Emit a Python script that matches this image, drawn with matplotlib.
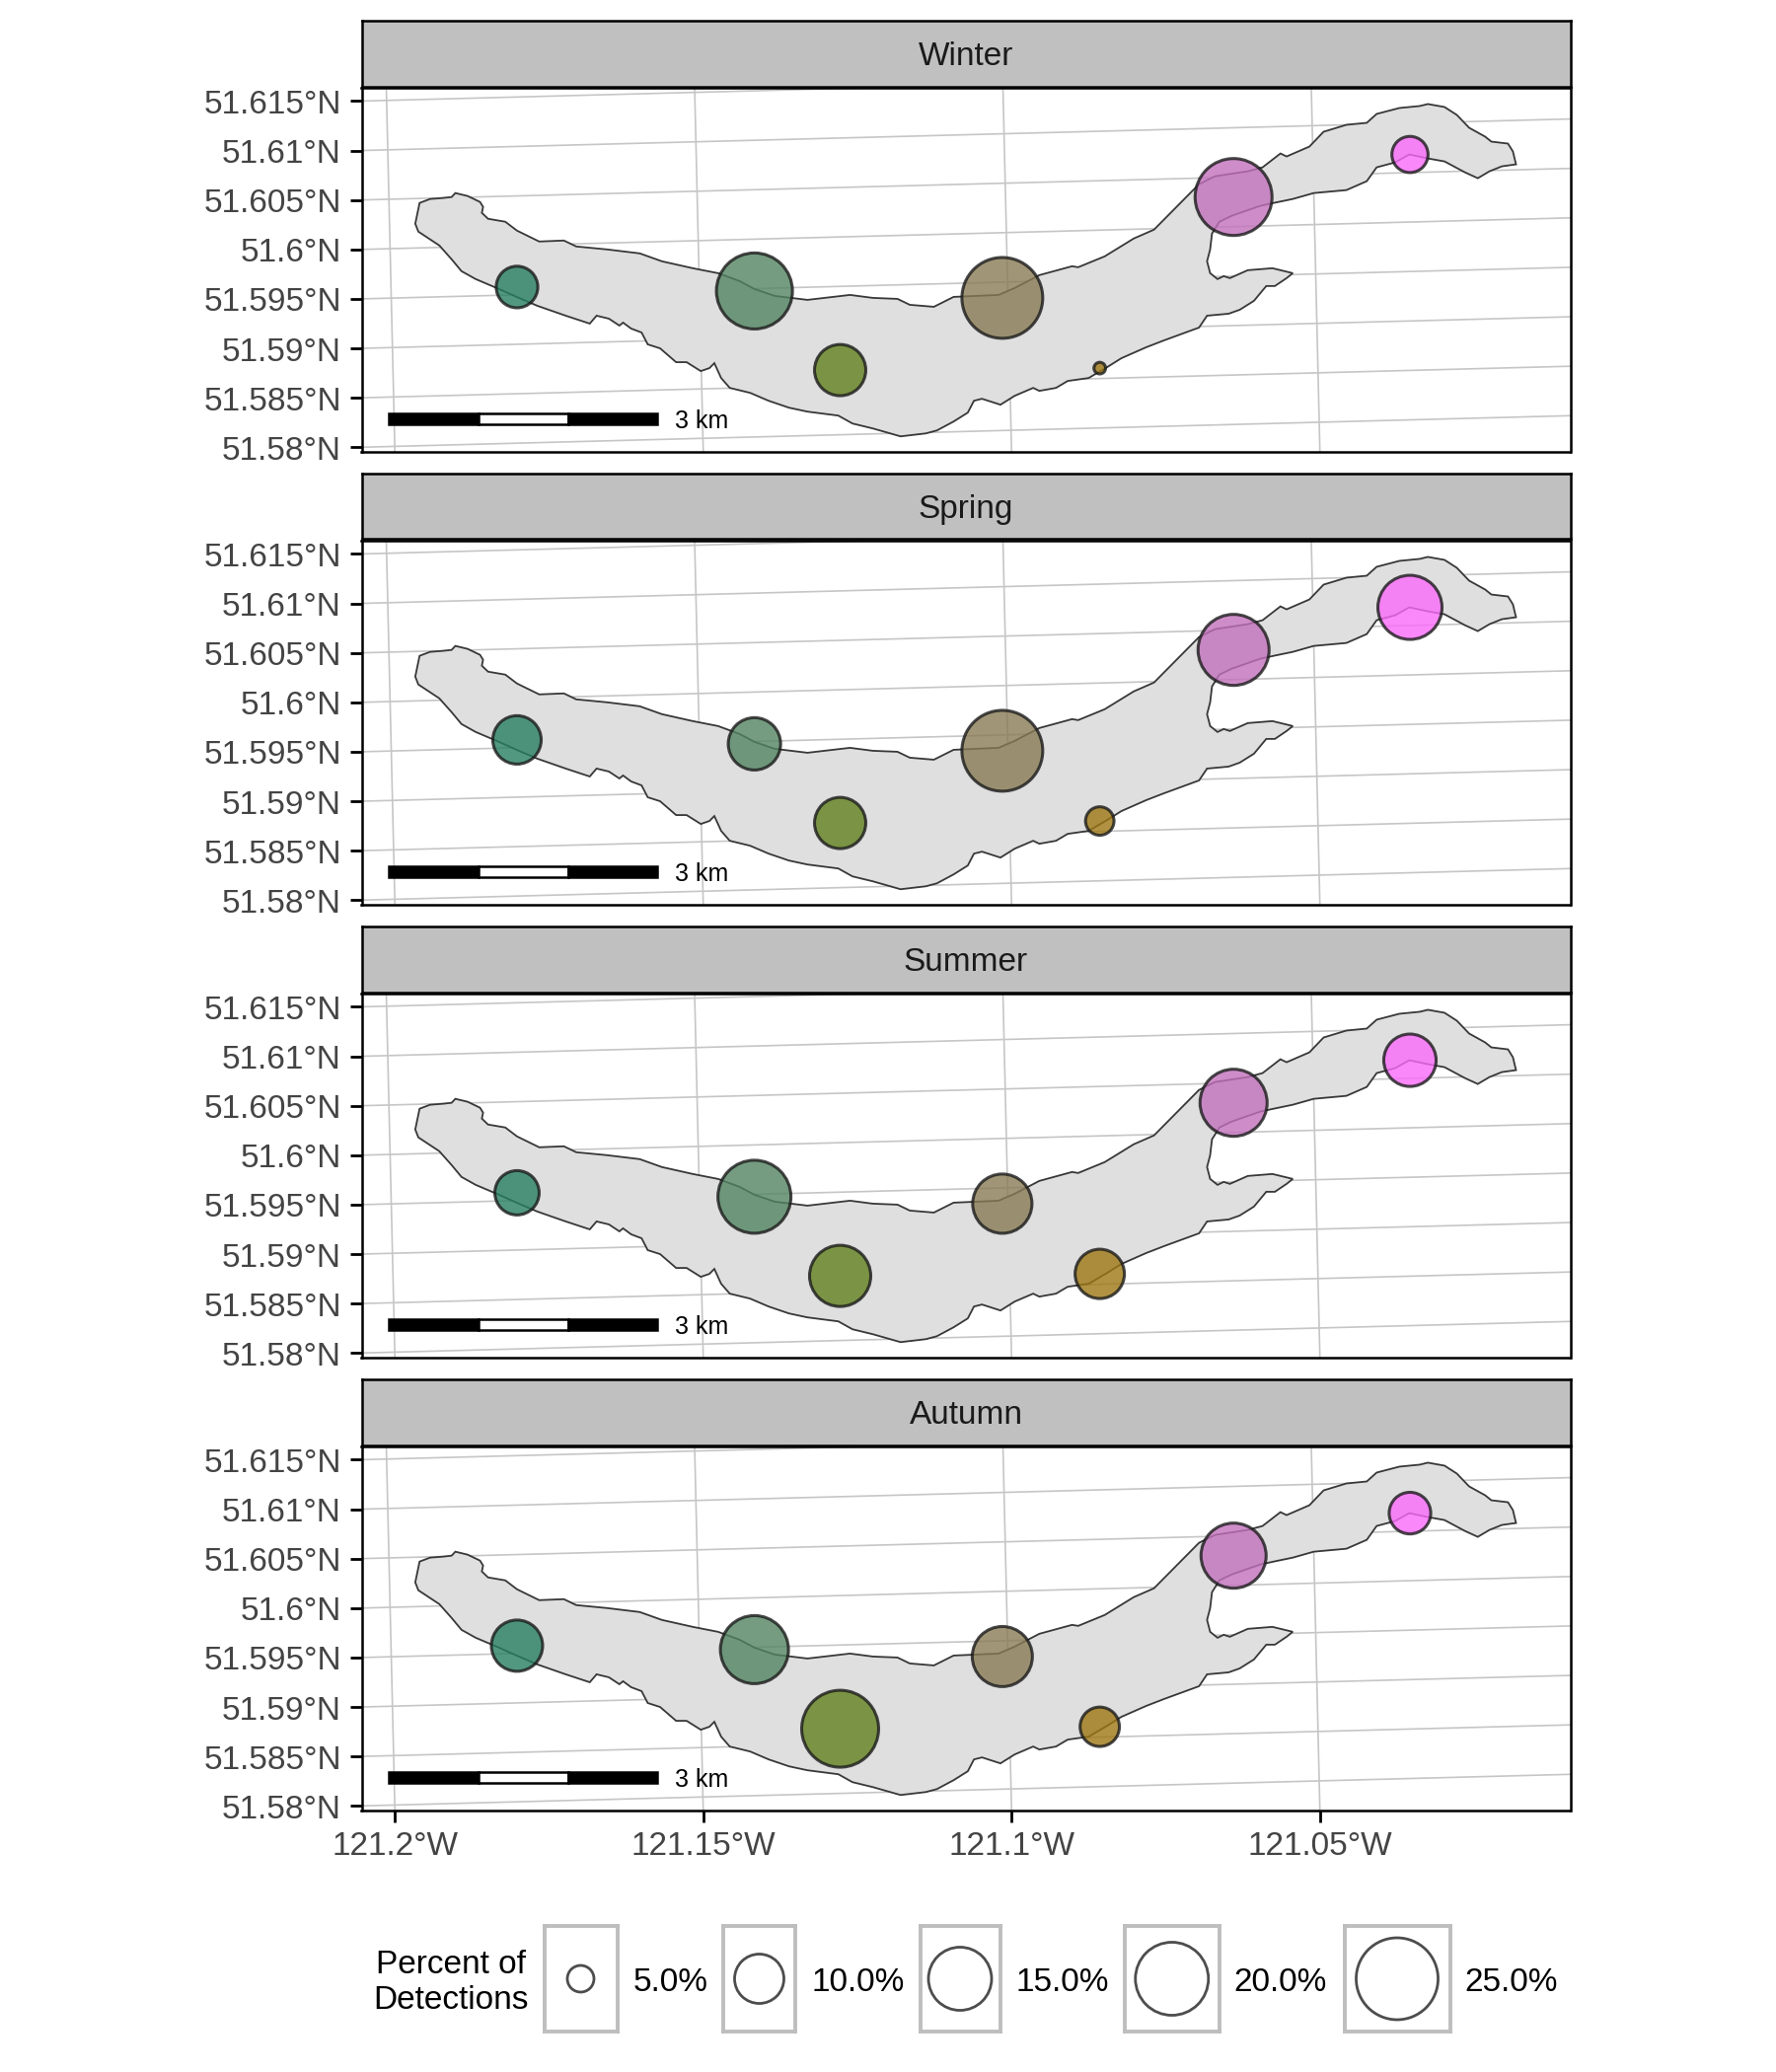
"""Seasonal detection map: percent of detections per receiver site on the lake."""

import matplotlib.pyplot as plt
import numpy as np
from matplotlib.patches import Rectangle
from matplotlib.transforms import ScaledTranslation

plt.rcParams["font.family"] = ["Liberation Sans", "DejaVu Sans"]

DPI = 200
FIG_W, FIG_H = 1800, 2100

seasons = ["Winter", "Spring", "Summer", "Autumn"]

site_lon = [-121.1802, -121.1417, -121.1278, -121.1015, -121.0857, -121.0640, -121.0354]
site_lat = [51.5962, 51.5958, 51.5878, 51.5951, 51.5880, 51.6053, 51.6096]
site_colors = ["#277F61", "#528461", "#61801D", "#887B54", "#9D7713", "#C271BC", "#FA6BFA"]

# percent of detections, one value per site
winter_pct = [8.3, 21.7, 10.7, 24.4, 1.2, 22.2, 7.1]
spring_pct = [9.8, 11.1, 10.7, 24.4, 5.4, 19.0, 15.5]
summer_pct = [8.9, 20.0, 14.3, 13.6, 10.0, 17.0, 11.1]
autumn_pct = [10.7, 17.5, 22.2, 13.9, 7.8, 16.0, 8.3]
season_pct = [winter_pct, spring_pct, summer_pct, autumn_pct]

legend_pct = [5, 10, 15, 20, 25]
legend_labels = ["5.0%", "10.0%", "15.0%", "20.0%", "25.0%"]

lat_ticks = [51.58, 51.585, 51.59, 51.595, 51.6, 51.605, 51.61, 51.615]
lat_labels = ["51.58°N", "51.585°N", "51.59°N", "51.595°N", "51.6°N", "51.605°N", "51.61°N", "51.615°N"]
lon_ticks = [-121.2, -121.15, -121.1, -121.05]
lon_labels = ["121.2°W", "121.15°W", "121.1°W", "121.05°W"]

lake_lon = [
    -121.1960, -121.1943, -121.1922, -121.1908, -121.1902, -121.1882, -121.1862, -121.1857,
    -121.1859, -121.1849, -121.1821, -121.1802, -121.1766, -121.1726, -121.1706, -121.1656,
    -121.1603, -121.1567, -121.1517, -121.1476, -121.1441, -121.1417, -121.1384, -121.1331,
    -121.1262, -121.1225, -121.1185, -121.1165, -121.1126, -121.1094, -121.1021, -121.0995,
    -121.0955, -121.0902, -121.0892, -121.0849, -121.0802, -121.0769, -121.0723, -121.0696,
    -121.0670, -121.0617, -121.0593, -121.0564, -121.0554, -121.0517, -121.0494, -121.0457,
    -121.0424, -121.0408, -121.0371, -121.0338, -121.0325, -121.0298, -121.0278, -121.0258,
    -121.0232, -121.0222, -121.0195, -121.0187, -121.0182, -121.0205, -121.0225, -121.0244,
    -121.0265, -121.0298, -121.0325, -121.0355, -121.0378, -121.0408, -121.0424, -121.0457,
    -121.0510, -121.0544, -121.0575, -121.0597, -121.0643, -121.0663, -121.0675, -121.0678,
    -121.0683, -121.0678, -121.0666, -121.0656, -121.0646, -121.0617, -121.0577, -121.0544,
    -121.0554, -121.0573, -121.0587, -121.0607, -121.0630, -121.0648, -121.0683, -121.0696,
    -121.0753, -121.0782, -121.0822, -121.0845, -121.0875, -121.0909, -121.0928, -121.0955,
    -121.0965, -121.0995, -121.1018, -121.1048, -121.1061, -121.1071, -121.1094, -121.1121,
    -121.1139, -121.1180, -121.1225, -121.1258, -121.1281, -121.1331, -121.1361, -121.1394,
    -121.1424, -121.1457, -121.1471, -121.1482, -121.1490, -121.1504, -121.1527, -121.1544,
    -121.1570, -121.1590, -121.1600, -121.1617, -121.1630, -121.1636, -121.1653, -121.1673,
    -121.1684, -121.1723, -121.1769, -121.1799, -121.1835, -121.1869, -121.1892, -121.1908,
    -121.1928, -121.1962, -121.1967,
]
lake_lat = [
    51.6047, 51.6051, 51.6052, 51.6053, 51.6057, 51.6054, 51.6048, 51.6043,
    51.6037, 51.6031, 51.6028, 51.6019, 51.6008, 51.6009, 51.6003, 51.6000,
    51.5996, 51.5988, 51.5981, 51.5976, 51.5968, 51.5960, 51.5953, 51.5949,
    51.5954, 51.5951, 51.5950, 51.5944, 51.5942, 51.5952, 51.5954, 51.5961,
    51.5974, 51.5983, 51.5982, 51.5993, 51.6011, 51.6020, 51.6049, 51.6066,
    51.6074, 51.6079, 51.6083, 51.6097, 51.6094, 51.6104, 51.6119, 51.6126,
    51.6128, 51.6137, 51.6143, 51.6145, 51.6147, 51.6144, 51.6136, 51.6123,
    51.6114, 51.6109, 51.6107, 51.6099, 51.6086, 51.6084, 51.6079, 51.6072,
    51.6078, 51.6089, 51.6092, 51.6096, 51.6088, 51.6083, 51.6069, 51.6060,
    51.6057, 51.6051, 51.6047, 51.6044, 51.6034, 51.6028, 51.6016, 51.6000,
    51.5988, 51.5976, 51.5970, 51.5973, 51.5971, 51.5979, 51.5981, 51.5976,
    51.5971, 51.5963, 51.5963, 51.5948, 51.5939, 51.5935, 51.5933, 51.5921,
    51.5908, 51.5901, 51.5890, 51.5881, 51.5870, 51.5867, 51.5860, 51.5857,
    51.5860, 51.5852, 51.5843, 51.5849, 51.5847, 51.5835, 51.5826, 51.5817,
    51.5814, 51.5811, 51.5819, 51.5824, 51.5832, 51.5836, 51.5840, 51.5847,
    51.5855, 51.5860, 51.5870, 51.5885, 51.5880, 51.5877, 51.5886, 51.5886,
    51.5900, 51.5904, 51.5916, 51.5920, 51.5926, 51.5923, 51.5930, 51.5933,
    51.5925, 51.5933, 51.5943, 51.5951, 51.5961, 51.5970, 51.5978, 51.5990,
    51.6004, 51.6018, 51.6026,
]

XLIM = (-121.2054, -121.0094)
YLIM = (51.57953, 51.61634)
PARALLEL_TILT = 0.01628  # lat per lon, the projection turns the graticule a little
MERIDIAN_TILT = 0.038  # lon per lat

# percent -> marker diameter in pixels, taken from the legend
size_pct = [1, 5, 10, 15, 20, 25]
size_px = [13, 29, 52, 66, 76, 85]


def px_axes(fig, left, top, right, bottom):
    """Add axes placed by picture pixels."""
    return fig.add_axes(
        [left / FIG_W, 1 - bottom / FIG_H, (right - left) / FIG_W, (bottom - top) / FIG_H]
    )


def marker_area(pct):
    """Scatter area for a percent value."""
    diam = np.interp(pct, size_pct, size_px) - 2
    return (diam * 72 / DPI) ** 2


def draw_panel(ax, pct):
    """Draw graticule, lake, scale bar and site circles on one panel."""
    xs = np.array(XLIM)
    ys = np.array(YLIM)
    for lat in lat_ticks:
        ax.plot(xs, lat + PARALLEL_TILT * (xs - XLIM[0]), color="#C6C6C6", lw=0.6, zorder=1)
    for lon in lon_ticks:
        ax.plot(lon - MERIDIAN_TILT * (ys - YLIM[0]), ys, color="#C6C6C6", lw=0.6, zorder=1)

    ax.fill(lake_lon, lake_lat, facecolor="#DFDFDF", edgecolor="#383838", lw=0.65, zorder=2)

    # 3 km scale bar, one km per block
    km = 0.0145
    x0, y0, h = -121.20095, 51.58234, 0.00112
    for i, color in enumerate(["black", "white", "black"]):
        ax.add_patch(
            Rectangle((x0 + i * km, y0), km, h, facecolor=color, edgecolor="black", lw=0.9, zorder=3)
        )
    ax.text(x0 + 3 * km + 0.0028, y0 + h / 2 - 0.0003, "3 km", fontsize=9, va="center", ha="left", color="black", zorder=3)

    ax.scatter(
        site_lon,
        site_lat,
        s=marker_area(pct),
        c=site_colors,
        edgecolors="#1A1A1A",
        linewidths=1.1,
        alpha=0.8,
        zorder=4,
    )

    ax.set_xlim(XLIM)
    ax.set_ylim(YLIM)
    ax.set_yticks(lat_ticks)
    ax.set_yticklabels(lat_labels)
    ax.tick_params(axis="y", length=4.2, width=1.0, pad=3.2, labelsize=12, labelcolor="#444444")
    # labels sit a touch lower than matplotlib centres them
    nudge = ScaledTranslation(0, -0.2 / 72, ax.figure.dpi_scale_trans)
    for label in ax.get_yticklabels():
        label.set_transform(label.get_transform() + nudge)
    for spine in ax.spines.values():
        spine.set_linewidth(0.9)


fig = plt.figure(figsize=(FIG_W / DPI, FIG_H / DPI), dpi=DPI)

for i, season in enumerate(seasons):
    off = 459 * i
    strip = px_axes(fig, 366.5, 21 + off, 1591.5, 87.5 + off)
    strip.set_facecolor("#C0C0C0")
    strip.set_xticks([])
    strip.set_yticks([])
    for spine in strip.spines.values():
        spine.set_linewidth(0.9)
    strip.text(0.5, 0.45, season, transform=strip.transAxes, ha="center", va="center", fontsize=12, color="#1A1A1A")

    ax = px_axes(fig, 366.5, 89 + off, 1591.5, 458 + off)
    draw_panel(ax, season_pct[i])
    if i == len(seasons) - 1:
        ax.set_xticks(lon_ticks)
        ax.set_xticklabels(lon_labels)
        ax.tick_params(axis="x", length=4.2, width=1.0, pad=3.2, labelsize=12, labelcolor="#444444")
    else:
        ax.set_xticks([])

# legend, one key box per size
key_left = [551.5, 733, 932.5, 1140, 1362.5]
key_right = [625.5, 806, 1013.5, 1235.5, 1469.5]
label_left = [641.5, 822.5, 1030, 1250, 1484.5]

for left, right, text_x, pct, label in zip(key_left, key_right, label_left, legend_pct, legend_labels):
    key = px_axes(fig, left, 1952, right, 2059)
    key.scatter([0.5], [0.5], s=marker_area(pct), facecolors="none", edgecolors="#4D4D4D", linewidths=1.0)
    key.set_xlim(0, 1)
    key.set_ylim(0, 1)
    key.set_xticks([])
    key.set_yticks([])
    for spine in key.spines.values():
        spine.set_color("#BEBEBE")
        spine.set_linewidth(1.4)
    fig.text(text_x / FIG_W, 1 - 2010 / FIG_H, label, fontsize=12, va="center", ha="left", color="black")

fig.text(457 / FIG_W, 1 - 1992 / FIG_H, "Percent of", fontsize=12, va="center", ha="center")
fig.text(457 / FIG_W, 1 - 2028 / FIG_H, "Detections", fontsize=12, va="center", ha="center")

fig.savefig("out.png", dpi=DPI)
